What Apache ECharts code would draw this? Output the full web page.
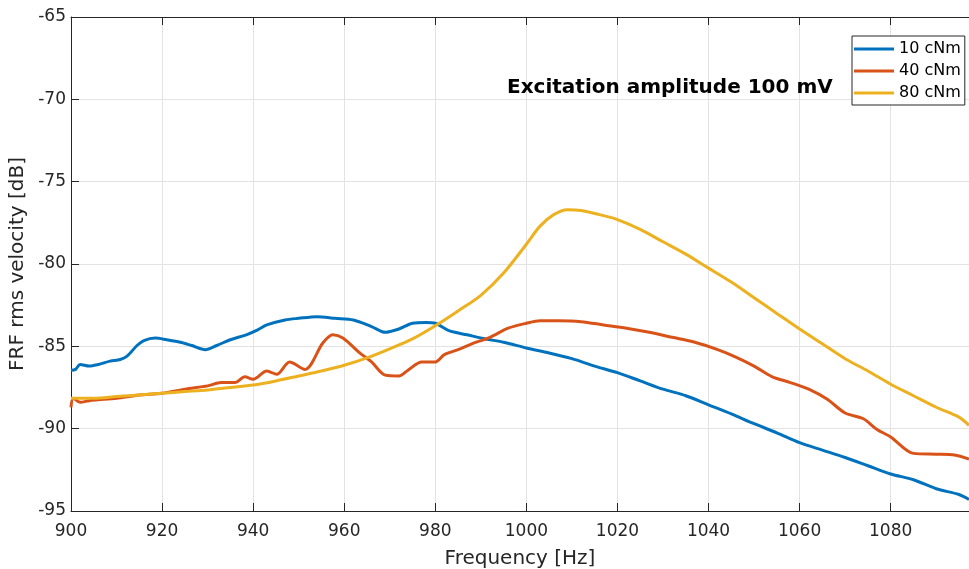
<!DOCTYPE html>
<html lang="en">
<head>
  <meta charset="UTF-8">
  <title>FRF rms velocity</title>
  <script src="https://cdn.jsdelivr.net/npm/echarts@6/dist/echarts.min.js"></script>
  <style>
    html, body { margin: 0; padding: 0; background: #fff; }
  </style>
</head>
<body>
<div id="chart" style="width: 969px;height: 569px;"></div>
<script>
  // values
  let seriesNames = ['10 cNm', '40 cNm', '80 cNm']

  let blueHz = [900, 901, 902, 904, 906, 908.6, 910.8, 912.3, 914.5, 916, 918.5, 921, 924, 926.5, 929.5, 932, 935, 938.5, 941, 943, 947, 950, 954, 958, 962, 966, 969, 972, 975, 978, 980, 983, 987, 991, 995, 1000, 1005, 1010, 1015, 1020, 1025, 1030, 1035, 1040, 1045, 1050, 1055, 1060, 1065, 1070, 1075, 1080, 1085, 1090, 1095, 1097.2]
  let blueDb = [-86.45, -86.4, -86.1, -86.2, -86.1, -85.9, -85.8, -85.6, -84.95, -84.65, -84.5, -84.6, -84.75, -84.95, -85.2, -84.95, -84.6, -84.3, -84.0, -83.7, -83.4, -83.3, -83.2, -83.3, -83.4, -83.8, -84.15, -83.95, -83.6, -83.55, -83.6, -84.05, -84.3, -84.55, -84.75, -85.1, -85.4, -85.75, -86.2, -86.6, -87.1, -87.6, -88.0, -88.55, -89.1, -89.7, -90.25, -90.85, -91.3, -91.75, -92.25, -92.75, -93.1, -93.65, -94.0, -94.3]

  let redHz = [900, 900.5, 902, 904, 906, 910, 915, 920, 925, 930, 933, 936, 938.2, 940, 943, 945.2, 948, 951.4, 955.3, 957.5, 959.7, 963.4, 966, 969, 972, 974, 977, 980, 982, 985, 988, 992, 996, 1000, 1003, 1007, 1012, 1017, 1022, 1027, 1032, 1037, 1042, 1046, 1050, 1054, 1058, 1062, 1066, 1070, 1074, 1077, 1080, 1085, 1090, 1094, 1097.2]
  let redDb = [-88.7, -88.15, -88.4, -88.3, -88.25, -88.15, -87.95, -87.85, -87.6, -87.4, -87.2, -87.2, -86.85, -87.0, -86.5, -86.7, -85.95, -86.4, -84.8, -84.3, -84.5, -85.4, -85.95, -86.75, -86.8, -86.45, -85.95, -85.95, -85.5, -85.2, -84.85, -84.45, -83.9, -83.6, -83.45, -83.45, -83.5, -83.7, -83.9, -84.15, -84.45, -84.75, -85.2, -85.65, -86.2, -86.85, -87.2, -87.6, -88.2, -89.05, -89.4, -90.05, -90.5, -91.5, -91.55, -91.6, -91.85]

  let yellowHz = [900, 905, 910, 915, 920, 925, 930, 935, 940, 945, 950, 955, 960, 965, 970, 975, 980, 985, 990, 995, 1000, 1003, 1006, 1009, 1012, 1016, 1020, 1025, 1030, 1035, 1040, 1045, 1050, 1055, 1060, 1065, 1070, 1075, 1080, 1085, 1090, 1095, 1097.2]
  let yellowDb = [-88.15, -88.15, -88.05, -87.95, -87.85, -87.75, -87.65, -87.5, -87.35, -87.1, -86.8, -86.5, -86.15, -85.7, -85.15, -84.55, -83.75, -82.85, -81.9, -80.55, -78.8, -77.7, -77.0, -76.7, -76.75, -77.0, -77.3, -77.9, -78.65, -79.4, -80.25, -81.1, -82.05, -83.0, -83.95, -84.85, -85.75, -86.5, -87.3, -88.0, -88.7, -89.3, -89.8]

  let colors = ['#0072BD', '#D95319', '#EDB120']
  let font = 'DejaVu Sans'

  function pairs(xs, ys) {
    return xs.map((x, i) => [x, ys[i]])
  }

  let myChart = echarts.init(document.getElementById('chart'))

  let tickStyle = { show: true, inside: true, length: 8, lineStyle: { color: '#262626', width: 1 } }

  let option = {
    animation: false,
    color: colors,
    textStyle: { fontFamily: font },
    title: {
      text: 'Excitation amplitude 100 mV',
      left: 502,
      top: 73,
      textStyle: { fontFamily: font, fontSize: 20, fontWeight: 'bold', color: '#000' }
    },
    legend: {
      data: seriesNames,
      orient: 'vertical',
      left: 852,
      top: 36,
      padding: [5, 4, 4, 2],
      itemGap: 6,
      itemWidth: 40,
      itemHeight: 3,
      icon: 'rect',
      borderColor: '#262626',
      borderWidth: 1,
      backgroundColor: '#fff',
      textStyle: { fontFamily: font, fontSize: 16, color: '#000' }
    },
    grid: { left: 71, right: 0, top: 17, bottom: 58, containLabel: false, outerBoundsMode: 'none' },
    xAxis: [
      {
        type: 'value',
        min: 900,
        max: 1097.2,
        interval: 20,
        name: 'Frequency [Hz]',
        nameLocation: 'middle',
        nameGap: 38,
        nameTextStyle: { fontFamily: font, fontSize: 20, color: '#262626' },
        axisLine: { show: true, lineStyle: { color: '#262626', width: 1 } },
        axisTick: tickStyle,
        axisLabel: {
          fontFamily: font, fontSize: 17, color: '#262626', margin: 12, showMaxLabel: false,
          formatter: v => String(v)
        },
        splitLine: { show: true, lineStyle: { color: '#e3e3e3', width: 1 } }
      },
      {
        type: 'value',
        position: 'top',
        min: 900,
        max: 1097.2,
        interval: 20,
        axisLine: { show: true, lineStyle: { color: '#262626', width: 1 } },
        axisTick: tickStyle,
        axisLabel: { show: false },
        splitLine: { show: false }
      }
    ],
    yAxis: {
      type: 'value',
      min: -95,
      max: -65,
      interval: 5,
      name: 'FRF rms velocity [dB]',
      nameLocation: 'middle',
      nameGap: 42,
      nameTextStyle: { fontFamily: font, fontSize: 20, color: '#262626' },
      axisLine: { show: true, lineStyle: { color: '#262626', width: 1 } },
      axisTick: tickStyle,
      axisLabel: { fontFamily: font, fontSize: 17, color: '#262626', margin: 5 },
      splitLine: { show: true, lineStyle: { color: '#e3e3e3', width: 1 } }
    },
    series: [
      { name: seriesNames[0], type: 'line', data: pairs(blueHz, blueDb) },
      { name: seriesNames[1], type: 'line', data: pairs(redHz, redDb) },
      { name: seriesNames[2], type: 'line', data: pairs(yellowHz, yellowDb) }
    ].map(s => Object.assign(s, {
      showSymbol: false,
      smooth: 0.3,
      clip: true,
      lineStyle: { width: 3 }
    }))
  }

  myChart.setOption(option)
</script>
</body>
</html>
